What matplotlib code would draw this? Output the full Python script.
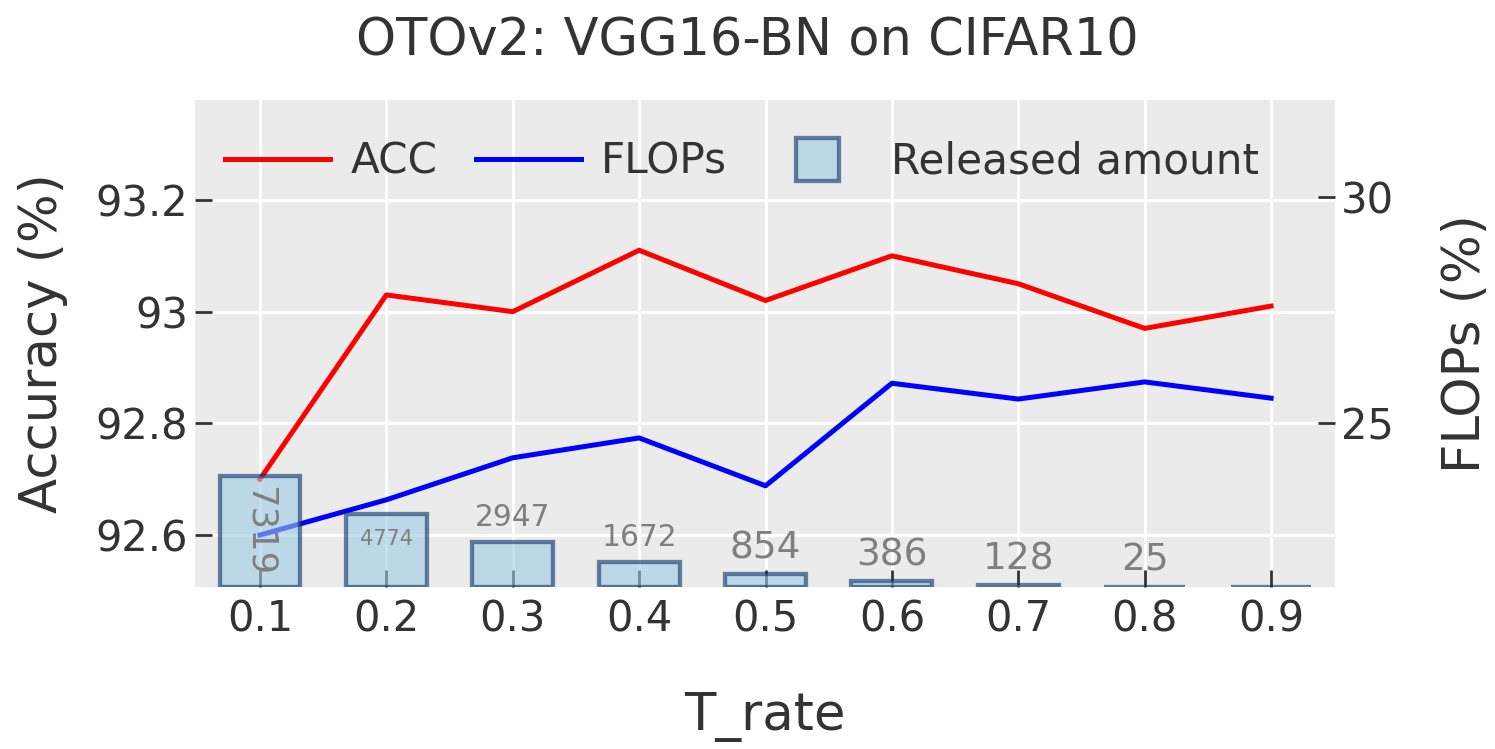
import matplotlib
matplotlib.use("Agg")
import matplotlib.pyplot as plt
from matplotlib.lines import Line2D
from matplotlib.patches import Patch, Rectangle
from matplotlib.legend_handler import HandlerPatch
from matplotlib.ticker import FixedLocator, FuncFormatter

plt.rcParams["font.family"] = "DejaVu Sans"

# data
t_rate = [0.1, 0.2, 0.3, 0.4, 0.5, 0.6, 0.7, 0.8, 0.9]
acc = [92.70, 93.03, 93.00, 93.11, 93.02, 93.10, 93.05, 92.97, 93.01]
flops = [22.52, 23.30, 24.23, 24.67, 23.61, 25.88, 25.53, 25.91, 25.55]
released = [7319, 4774, 2947, 1672, 854, 386, 128, 25, 0]

acc_ticks = [92.6, 92.8, 93.0, 93.2]
flops_ticks = [25, 30]

TEXT = "#333333"
BG = "#ebebeb"
BAR_FILL = (158 / 255, 202 / 255, 225 / 255)
BAR_EDGE = (8 / 255, 48 / 255, 107 / 255)

fig = plt.figure(figsize=(14.95, 7.49), dpi=100)
ax1 = fig.add_axes([195 / 1495, 1 - 587 / 749, 1140 / 1495, 487 / 749])
ax2 = ax1.twinx()
ax3 = ax1.twinx()

ax1.set_facecolor(BG)
ax1.set_axisbelow(True)
ax1.grid(True, color="white", linewidth=2.2)

ax1.plot(t_rate, acc, color="red", linewidth=3.6, zorder=3)
ax2.plot(t_rate, flops, color="blue", linewidth=3.6, zorder=3)

bar_w = 0.064
ax3.bar(t_rate, released, width=bar_w, color=BAR_FILL, edgecolor=BAR_EDGE,
        linewidth=3.1, alpha=0.6)

ax1.set_xlim(0.0486, 0.9506)
ax1.set_ylim(92.507, 93.379)
ax2.set_ylim(21.37, 32.15)
ax3.set_ylim(0, 32000)
ax3.set_yticks([])

# bar value labels (plotly "auto" text placement)
for x, v in zip(t_rate, released):
    if v <= 0:
        continue
    s = str(v)
    if v > 6000:
        ax3.annotate(s, (x, v), xytext=(0, -40), textcoords="offset points",
                     ha="center", va="center", rotation=-90,
                     fontsize=25.5, color="#7f7f7f")
    elif v > 4000:
        ax3.annotate(s, (x, v), xytext=(0, -18), textcoords="offset points",
                     ha="center", va="center", fontsize=15, color="#7f7f7f")
    else:
        fs = 27 if len(s) <= 3 else 21.3
        ax3.annotate(s, (x, v), xytext=(0, 11.5), textcoords="offset points",
                     ha="center", va="baseline", fontsize=fs, color="#7f7f7f")

for ax in (ax1, ax2, ax3):
    for sp in ax.spines.values():
        sp.set_visible(False)

ax1.xaxis.set_major_locator(FixedLocator(t_rate))
ax1.xaxis.set_major_formatter(FuncFormatter(lambda v, p: f"{v:g}"))
ax1.yaxis.set_major_locator(FixedLocator(acc_ticks))
ax1.yaxis.set_major_formatter(FuncFormatter(lambda v, p: f"{v:g}"))
ax2.yaxis.set_major_locator(FixedLocator(flops_ticks))

ax1.tick_params(axis="x", direction="in", length=12.5, width=2, color=TEXT,
                labelcolor=TEXT, labelsize=30, pad=8)
ax1.tick_params(axis="y", direction="in", length=12.5, width=2, color=TEXT,
                labelcolor=TEXT, labelsize=30, pad=5)
ax2.tick_params(axis="y", direction="in", length=12.5, width=2, color=TEXT,
                labelcolor=TEXT, labelsize=30, pad=4)

ax1.set_xlabel("T_rate", fontsize=37, color=TEXT, labelpad=37)
ax1.set_ylabel("Accuracy (%)", fontsize=37, color=TEXT, labelpad=20)
ax2.set_ylabel("FLOPs (%)", fontsize=37, color=TEXT, labelpad=34)
fig.suptitle("OTOv2: VGG16-BN on CIFAR10", fontsize=36.7, color=TEXT, y=0.978)


def square_patch(legend, orig_handle, xdescent, ydescent, width, height, fontsize):
    s = 31
    return Rectangle((-xdescent + width / 2 - s / 2, -ydescent + height / 2 - s / 2), s, s)


handles = [
    Line2D([], [], color="red", linewidth=3.6),
    Line2D([], [], color="blue", linewidth=3.6),
    Patch(facecolor=BAR_FILL, edgecolor=BAR_EDGE, linewidth=3.1, alpha=0.6),
]
fig.legend(handles, ["ACC", "FLOPs", "Released amount"], loc="center left",
           bbox_to_anchor=(225 / 1495, 1 - 162 / 749), ncol=3, frameon=False,
           fontsize=30.3, labelcolor=TEXT, handlelength=2.5, handletextpad=0.48,
           columnspacing=0.91, borderpad=0, borderaxespad=0,
           handler_map={Patch: HandlerPatch(patch_func=square_patch)})

fig.savefig("out.png", dpi=100)
